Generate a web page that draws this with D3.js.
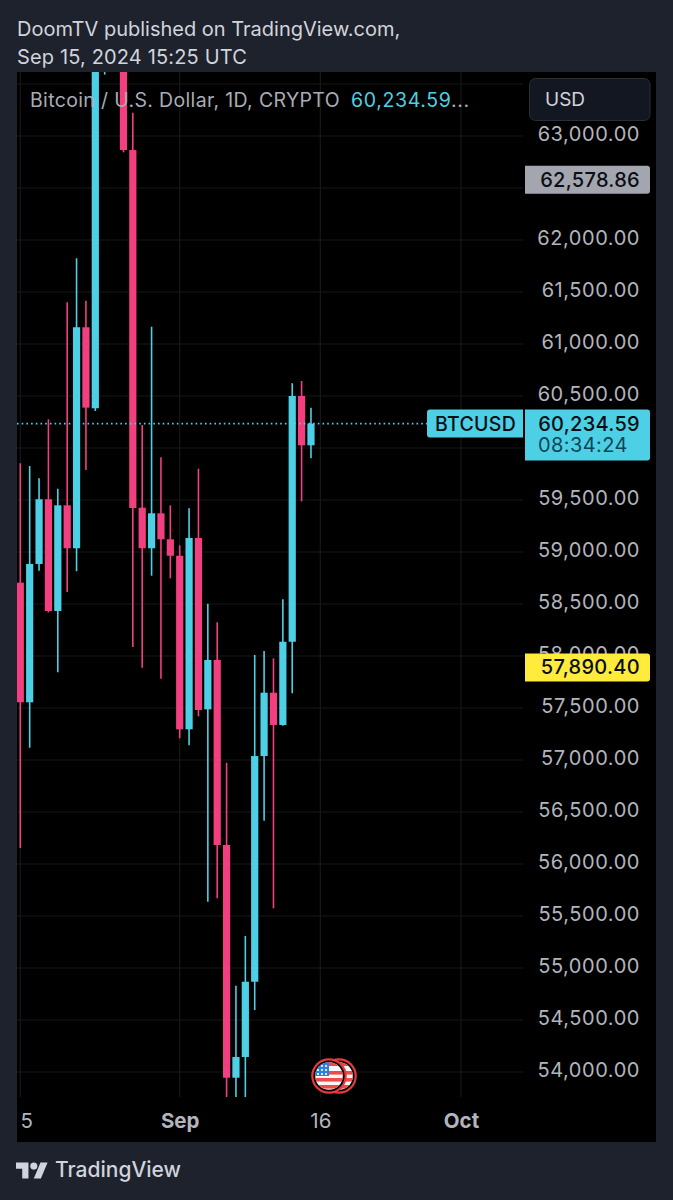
<!DOCTYPE html>
<html>
<head>
<meta charset="utf-8">
<script src="https://cdn.jsdelivr.net/npm/d3@7"></script>
<style>
  html, body { margin: 0; padding: 0; background: #1e222d; }
  svg { display: block; font-family: Inter, "Noto Sans", sans-serif; }
</style>
</head>
<body>
<svg id="chart" width="673" height="1200"></svg>
<script>
// daily candles, Aug 15 to Sep 15 2024 (top ones run off the pane)
const firstDay = Date.UTC(2024, 7, 15);
const opens = [58705, 57555, 58885, 59507, 58433, 59449, 59036, 61161, 60382, 64040, 64100, 64240, 62865, 59426, 59036, 59372, 59122, 58964, 57295, 59135, 57487, 57962, 56183, 53945, 54144, 54868, 57038, 57647, 57337, 58137, 60500, 60026];
const highs = [59853, 59827, 59709, 60276, 59609, 61401, 61824, 61416, 64450, 64950, 65000, 64500, 63224, 60221, 61166, 59911, 59449, 59064, 59420, 59801, 58503, 58324, 56974, 54830, 55308, 58010, 58048, 57978, 58545, 60622, 60644, 60388];
const lows = [56154, 57118, 58820, 58420, 57843, 58615, 58814, 59788, 60356, 63590, 63800, 62843, 58087, 57888, 58772, 57782, 58747, 57209, 57141, 57420, 55637, 55670, 53757, 53650, 53650, 54596, 56416, 55574, 57330, 57641, 59487, 59901];
const closes = [57555, 58885, 59507, 58433, 59449, 59036, 61161, 60388, 64040, 64100, 64240, 62865, 59423, 59036, 59372, 59122, 58964, 57295, 59135, 57481, 57962, 56183, 53945, 54144, 54868, 57038, 57647, 57337, 58137, 60500, 60026, 60234.59];

const priceTicks = d3.range(54000, 63001, 500);
// these two sit right under the price tags
const hiddenPriceLabels = [60000, 62500];
const timeTicks = [Date.UTC(2024, 7, 15), Date.UTC(2024, 8, 1), Date.UTC(2024, 8, 16), Date.UTC(2024, 9, 1)];
const timeLabels = ["5", "Sep", "16", "Oct"];
const boldLabels = ["Sep", "Oct"];

const lastPrice = 60234.59;
const prevClose = 62578.86;
const openPrice = 57890.40;

const bgColor = "#1e222d";
const upColor = "#4dd0e6";
const downColor = "#f23f80";
const gridColor = "#181818";
const labelColor = "#b2b5be";

const day = 86400000;
const candles = opens.map((o, i) => ({
    date: firstDay + i * day, open: o, high: highs[i], low: lows[i], close: closes[i]
}));

const x = d3.scaleUtc().domain([timeTicks[0], timeTicks[3]]).range([20.3, 461]);
const y = d3.scaleLinear().domain([54000, 63000]).range([1072, 136]);
const fmt = d3.format(",.2f");

const svg = d3.select("#chart");
svg.append("rect").attr("width", 673).attr("height", 1200).attr("fill", bgColor);

// header
svg.append("text").attr("x", 17).attr("y", 36).attr("font-size", 20).attr("fill", "#d1d4dc")
    .text("DoomTV published on TradingView.com,");
svg.append("text").attr("x", 17).attr("y", 64).attr("font-size", 20).attr("letter-spacing", 0.15).attr("fill", "#d1d4dc")
    .text("Sep 15, 2024 15:25 UTC");

// pane
svg.append("rect").attr("x", 17).attr("y", 72).attr("width", 639).attr("height", 1070).attr("fill", "#000");

const defs = svg.append("defs");
defs.append("clipPath").attr("id", "pane").append("rect")
    .attr("x", 17).attr("y", 72).attr("width", 506).attr("height", 1025);

// grid
const grid = svg.append("g").attr("stroke", gridColor).attr("stroke-width", 1.2);
grid.selectAll("line.h").data(priceTicks.concat([63500])).join("line").attr("class", "h")
    .attr("x1", 17).attr("x2", 523).attr("y1", d => y(d)).attr("y2", d => y(d));
grid.selectAll("line.v").data(timeTicks).join("line").attr("class", "v")
    .attr("x1", d => x(d)).attr("x2", d => x(d)).attr("y1", 72).attr("y2", 1097);

// candles
const plot = svg.append("g").attr("clip-path", "url(#pane)");
const colorOf = d => d.close >= d.open ? upColor : downColor;
plot.selectAll("line.wick").data(candles).join("line").attr("class", "wick")
    .attr("x1", d => x(d.date)).attr("x2", d => x(d.date))
    .attr("y1", d => y(d.high)).attr("y2", d => y(d.low))
    .attr("stroke", colorOf).attr("stroke-width", 1.6);
plot.selectAll("rect.body").data(candles).join("rect").attr("class", "body")
    .attr("x", d => x(d.date) - 3.6).attr("width", 7.2)
    .attr("y", d => y(Math.max(d.open, d.close)))
    .attr("height", d => Math.abs(y(d.open) - y(d.close)))
    .attr("fill", colorOf);

// last price line
svg.append("line").attr("x1", 17).attr("x2", 427).attr("y1", y(lastPrice)).attr("y2", y(lastPrice))
    .attr("stroke", upColor).attr("stroke-width", 1.6).attr("stroke-dasharray", "1.6 3.1");

// legend
const legend = svg.append("text").attr("x", 30).attr("y", 107).attr("font-size", 19.5).attr("fill", "#a9acb4");
legend.append("tspan").attr("letter-spacing", 0.35).text("Bitcoin / U.S. Dollar, 1D, CRYPTO");
legend.append("tspan").attr("x", 351).attr("letter-spacing", 0.65).attr("fill", upColor).text("60,234.59");
legend.append("tspan").attr("letter-spacing", 0.65).text("...");

// price axis
const priceAxis = d3.axisRight(y)
    .tickValues(priceTicks.filter(d => !hiddenPriceLabels.includes(d)))
    .tickFormat(fmt).tickSize(0);
const pa = svg.append("g").attr("transform", "translate(640,0)").call(priceAxis);
pa.select(".domain").remove();
pa.selectAll("text").attr("x", 0).attr("dy", 0).attr("y", 0)
    .attr("transform", "translate(0,4.5)")
    .attr("text-anchor", "end").attr("font-size", 20).attr("font-family", "Inter, sans-serif")
    .attr("letter-spacing", 0.55).attr("fill", labelColor);

// time axis
const timeAxis = d3.axisBottom(x).tickValues(timeTicks)
    .tickFormat((d, i) => timeLabels[i]).tickSize(0);
const ta = svg.append("g").attr("transform", "translate(0,1128)").call(timeAxis);
ta.select(".domain").remove();
ta.selectAll("text").attr("y", 0).attr("dy", 0)
    .attr("dx", (d, i) => i === 0 ? 6 : 0)
    .attr("font-size", 20.5).attr("font-family", "Inter, sans-serif").attr("fill", labelColor)
    .attr("font-weight", (d, i) => boldLabels.includes(timeLabels[i]) ? 700 : 400);

// currency button
svg.append("rect").attr("x", 529.5).attr("y", 78.5).attr("width", 120.5).attr("height", 42).attr("rx", 6)
    .attr("fill", "#131722").attr("stroke", "#2a2e39");
svg.append("text").attr("x", 545).attr("y", 106).attr("font-size", 19).attr("fill", "#d1d4dc").text("USD");

// price tags
function priceTag(price, fill, h) {
    const top = y(price) - 14;
    svg.append("path")
        .attr("d", `M525,${top}H647a3,3 0 0 1 3,3V${top + h - 3}a3,3 0 0 1 -3,3H525Z`)
        .attr("fill", fill);
    svg.append("text").attr("x", 640).attr("y", top + 21).attr("text-anchor", "end")
        .attr("font-size", 20).attr("font-weight", 500).attr("letter-spacing", 0.3)
        .attr("fill", "#0b0e14").text(fmt(price));
}
priceTag(prevClose, "#a3a6af", 28);
priceTag(openPrice, "#ffeb3b", 28);
priceTag(lastPrice, upColor, 51);

const lastTop = y(lastPrice) - 14;
svg.append("path")
    .attr("d", `M523,${lastTop}V${lastTop + 28}H430a3,3 0 0 1 -3,-3V${lastTop + 3}a3,3 0 0 1 3,-3Z`)
    .attr("fill", upColor);
svg.append("text").attr("x", 435).attr("y", lastTop + 21).attr("font-size", 19.5).attr("font-weight", 500)
    .attr("letter-spacing", 0.3).attr("fill", "#0b0e14").text("BTCUSD");
svg.append("text").attr("x", 538).attr("y", lastTop + 42).attr("font-size", 20).attr("letter-spacing", 0.4)
    .attr("fill", "#0c4655").text("08:34:24");

// economic event flags, Sep 16 and 17
function flag(cx, id) {
    const g = svg.append("g").attr("transform", `translate(${cx},1076)`);
    g.append("circle").attr("r", 17.8).attr("fill", "#e83a3a");
    g.append("circle").attr("r", 15.6).attr("fill", "#000");
    defs.append("clipPath").attr("id", id).append("circle").attr("r", 13.8);
    const f = g.append("g").attr("clip-path", `url(#${id})`);
    f.append("rect").attr("x", -15).attr("y", -15).attr("width", 30).attr("height", 30).attr("fill", "#f7f7f7");
    d3.range(3).forEach(i => {
        f.append("rect").attr("x", -15).attr("y", -5 + i * 7).attr("width", 30).attr("height", 3.6).attr("fill", "#ee4a4a");
    });
    f.append("rect").attr("x", -15).attr("y", -15).attr("width", 30).attr("height", 5).attr("fill", "#ee4a4a");
    f.append("rect").attr("x", -15).attr("y", -15).attr("width", 15).attr("height", 15).attr("fill", "#2f7fe0");
    d3.range(3).forEach(r => d3.range(3).forEach(c => {
        f.append("circle").attr("cx", -11 + c * 4).attr("cy", -10 + r * 4).attr("r", 1.1).attr("fill", "#fff");
    }));
}
flag(339, "flagB");
flag(329, "flagA");

// footer logo
svg.append("g").attr("transform", "translate(16,1159) scale(0.89)").attr("fill", "#d1d4dc")
    .call(g => {
        g.append("path").attr("d", "M14 22H7V11H0V4h14v18zM28 22h-8l7.5-18h8L28 22z");
        g.append("circle").attr("cx", 20).attr("cy", 8).attr("r", 4);
    });
svg.append("text").attr("x", 55).attr("y", 1177).attr("font-size", 21).attr("font-weight", 500)
    .attr("fill", "#d1d4dc").text("TradingView");
</script>
</body>
</html>
